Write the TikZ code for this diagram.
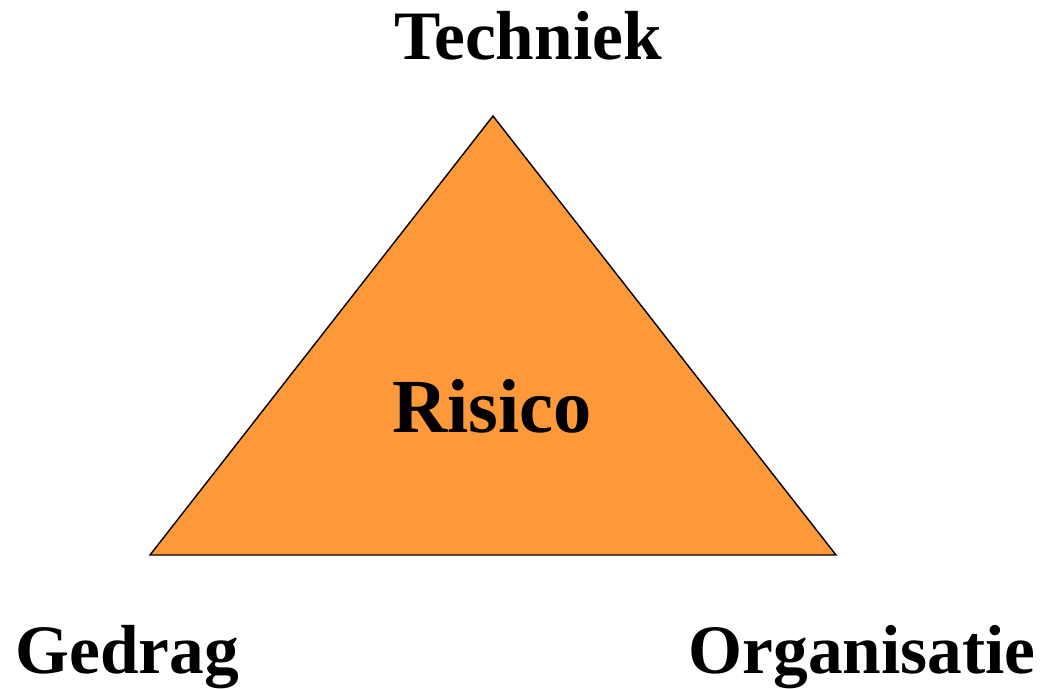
\documentclass[tikz,border=0pt]{standalone}
\usepackage{fontspec}
\setmainfont{Liberation Serif}
\usepackage{tikz}
\definecolor{risicoorange}{RGB}{253,153,56}
\begin{document}
\begin{tikzpicture}
		\tikzstyle{corner-label}=[font=\bfseries\fontsize{39.5}{47}\selectfont,anchor=base,inner sep=0pt]
		\tikzstyle{center-label}=[font=\bfseries\fontsize{43.5}{52}\selectfont,anchor=base,inner sep=0pt]
		\tikzstyle{risk-area}=[draw=black,fill=risicoorange,line width=0.8pt,line join=miter]
		\useasboundingbox (0,0) rectangle (20.8,13.76);
		% triangle
		\coordinate (top) at (9.86,11.44);
		\coordinate (left) at (3.0,2.66);
		\coordinate (right) at (16.72,2.66);
		\draw [risk-area] (top) -- (left) -- (right) -- cycle;
		% labels
		\node [center-label] at (9.84,5.10) (risico) {Risico};
		\node [corner-label] at (10.56,12.56) (techniek) {Techniek};
		\node [corner-label] at (2.54,0.30) (gedrag) {Gedrag};
		\node [corner-label] at (17.24,0.30) (organisatie) {Organisatie};
	\end{tikzpicture}
\end{document}
